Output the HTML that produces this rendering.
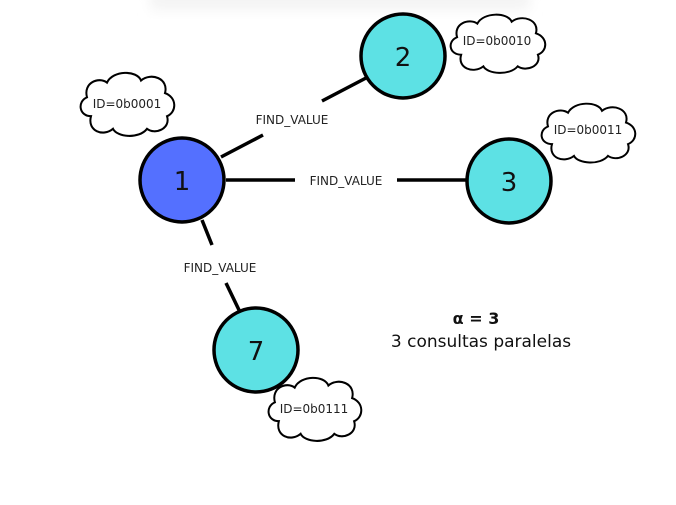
<!DOCTYPE html>
<html><head><meta charset="utf-8"><style>
html,body{margin:0;padding:0;background:#fff;width:676px;height:505px;overflow:hidden}
text{font-family:"DejaVu Sans","Liberation Sans",sans-serif}
</style></head><body>
<svg width="676" height="505" viewBox="0 0 676 505" xmlns="http://www.w3.org/2000/svg">
<defs>
<linearGradient id="sh" x1="0" y1="0" x2="0" y2="1"><stop offset="0" stop-color="#ececec"/><stop offset="1" stop-color="#fff"/></linearGradient>
<filter id="bl"><feGaussianBlur stdDeviation="6"/></filter>
<path id="cl" d="M14,44 C2,44 0,30 10,26 C6,12 22,6 30,12 C36,0 60,0 64,10 C74,2 92,8 88,22 C100,26 100,40 90,44 C94,56 78,62 70,56 C62,66 40,64 36,56 C26,64 10,58 14,44 Z" fill="#fff" stroke="#000" stroke-width="2"/>
</defs>
<rect x="150" y="-6" width="380" height="22" fill="url(#sh)" filter="url(#bl)"/>
<g stroke="#000" stroke-width="3.5" fill="none">
<line x1="221" y1="157" x2="263" y2="135"/>
<line x1="322" y1="101" x2="366" y2="78"/>
<line x1="226" y1="180" x2="295" y2="180"/>
<line x1="397" y1="180" x2="467" y2="180"/>
<line x1="202" y1="220" x2="212" y2="245"/>
<line x1="226" y1="283" x2="239" y2="310"/>
</g>
<g stroke="#000" stroke-width="3.5">
<circle cx="182" cy="180" r="42" fill="#5470ff"/>
<circle cx="403" cy="56" r="42" fill="#5de1e4"/>
<circle cx="509" cy="181" r="42" fill="#5de1e4"/>
<circle cx="256" cy="350" r="42" fill="#5de1e4"/>
</g>
<g font-size="26" text-anchor="middle" fill="#111">
<text x="182" y="190">1</text><text x="403" y="66">2</text><text x="509" y="191">3</text><text x="256" y="360">7</text>
</g>
<use href="#cl" transform="translate(77,70) scale(1,1.05)"/>
<use href="#cl" transform="translate(447,12) scale(1.01,0.97)"/>
<use href="#cl" transform="translate(538,101) scale(1,0.98)"/>
<use href="#cl" transform="translate(265,375) scale(0.99,1.05)"/>
<g font-size="12" text-anchor="middle" fill="#222">
<text x="127" y="108">ID=0b0001</text>
<text x="497" y="45">ID=0b0010</text>
<text x="588" y="134">ID=0b0011</text>
<text x="314" y="413">ID=0b0111</text>
<text x="292" y="124">FIND_VALUE</text>
<text x="346" y="185">FIND_VALUE</text>
<text x="220" y="272">FIND_VALUE</text>
</g>
<text x="476" y="324" font-size="16" font-weight="bold" text-anchor="middle" fill="#111">α = 3</text>
<text x="481" y="347" font-size="17" text-anchor="middle" fill="#111">3 consultas paralelas</text>
</svg>
</body></html>
